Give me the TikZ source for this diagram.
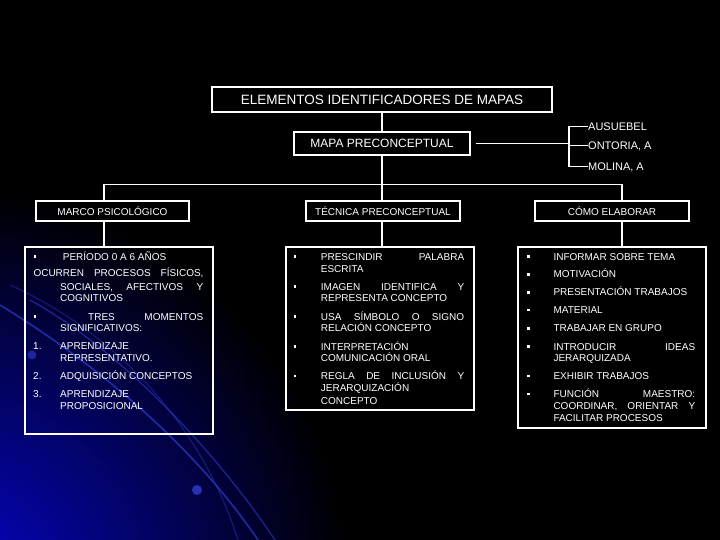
\documentclass[tikz,border=0pt]{standalone}
\usepackage{fontspec}
\setmainfont{Liberation Sans}
\definecolor{glow}{RGB}{5,5,205}
\definecolor{glowmid}{RGB}{0,0,120}
\definecolor{streak}{RGB}{50,60,210}
\tikzset{
  box/.style={draw=white, line width=1.1pt, fill=none, inner sep=0pt, text=white},
  txt/.style={text=white, inner sep=0pt, text height=7.2pt, text depth=0pt, anchor=west, font=\fontsize{10}{12}\selectfont},
  lbl/.style={text=white, inner sep=0pt, text height=7.9pt, text depth=0pt, anchor=west, font=\fontsize{11}{13}\selectfont},
  conn/.style={draw=white, line width=1.1pt}
}
\newcommand{\mytx}[4]{\node[txt] (#1) at (#2,#3) {#4};}
\newcommand{\myjx}[5]{\node[txt] (#1) at (#2,#3) {\makebox[#4pt][s]{#5}};}
\newcommand{\mybu}[2]{\fill[white] (#1-1.2,#2-1.3) rectangle (#1+1.2,#2+1.3);}
\begin{document}
\begin{tikzpicture}[x=1pt,y=-1pt]
\useasboundingbox (0,0) rectangle (720,540);
% background
\fill[black] (0,0) rectangle (720,540);
\begin{scope}
\clip (0,0) rectangle (720,540);
\shade[inner color=glow, middle color=glowmid, outer color=black] (-50,590) circle (400);
\draw[streak, line width=1.6pt, opacity=0.7] (0,305) .. controls (90,360) and (190,440) .. (258,540);
\draw[streak, line width=1.4pt, opacity=0.55] (30,300) .. controls (120,350) and (215,450) .. (275,540);
\draw[streak, line width=1.2pt, opacity=0.4] (10,285) .. controls (110,330) and (200,420) .. (238,540);
\fill[streak, opacity=0.8] (197,490) circle (5);
\fill[streak, opacity=0.6] (32,355) circle (4.5);
\end{scope}

% top nodes
\node[box, minimum width=340, minimum height=25, font=\fontsize{13.5}{15}\selectfont] (title) at (382,99.5) {ELEMENTOS IDENTIFICADORES DE MAPAS};
\node[box, minimum width=176, minimum height=23, font=\fontsize{12}{14}\selectfont] (mapa) at (382,143.5) {MAPA PRECONCEPTUAL};
\draw[conn] (title) -- (mapa);

% bracket
\node[lbl] (au) at (588,126.7) {AUSUEBEL};
\node[lbl] (on) at (588,145.7) {ONTORIA, A};
\node[lbl] (mo) at (588,166.5) {MOLINA, A};
\coordinate (br) at (569,143.5);
\draw[conn, shorten <=5pt] (mapa.east) -- (br);
\draw[conn] (au.west) -- ++(-19,0) |- (mo.west);
\draw[conn] (on.west) -- ++(-19,0);

% branch boxes
\node[box, minimum width=153, minimum height=20, font=\fontsize{10}{12}\selectfont] (marco) at (112.5,211) {MARCO PSICOLÓGICO};
\node[box, minimum width=154, minimum height=20, font=\fontsize{10}{12}\selectfont] (tec) at (383,211) {TÉCNICA PRECONCEPTUAL};
\node[box, minimum width=154, minimum height=20, font=\fontsize{10}{12}\selectfont] (como) at (612,211) {CÓMO ELABORAR};

\coordinate (jc) at (382,184.5);
\coordinate (jl) at (104,184.5);
\coordinate (jr) at (622,184.5);
\draw[conn] (mapa.south -| jc) -- (jc);
\draw[conn] (jl) -- (jr);
\draw[conn] (jl) -- (jl |- marco.north);
\draw[conn] (jc) -- (jc |- tec.north);
\draw[conn] (jr) -- (jr |- como.north);

% big boxes
\node[box, minimum width=188, minimum height=187] (lbox) at (119,340.5) {};
\node[box, minimum width=188, minimum height=163] (mbox) at (380,328.5) {};
\node[box, minimum width=188, minimum height=181] (rbox) at (612,337.5) {};
\draw[conn] (marco.south -| jl) -- (jl |- lbox.north);
\draw[conn] (tec.south -| jc) -- (jc |- mbox.north);
\draw[conn] (como.south -| jr) -- (jr |- rbox.north);

% left box text
\mybu{34.7}{256.7}
\mytx{l1}{62.7}{256.7}{PERÍODO 0 A 6 AÑOS}
\myjx{l2}{33.3}{273.3}{170}{OCURREN PROCESOS FÍSICOS,}
\myjx{l3}{60}{286.7}{143}{SOCIALES, AFECTIVOS Y}
\mytx{l4}{60}{298.3}{COGNITIVOS}
\mybu{34.7}{316.7}
\myjx{l5}{88}{316.7}{115}{TRES MOMENTOS}
\mytx{l6}{60}{328.3}{SIGNIFICATIVOS:}
\mytx{n1}{33}{346}{1.}
\mytx{l7}{60}{346}{APRENDIZAJE}
\mytx{l8}{60}{357.7}{REPRESENTATIVO.}
\mytx{n2}{33}{375.7}{2.}
\mytx{l9}{60}{375.7}{ADQUISICIÓN CONCEPTOS}
\mytx{n3}{33}{394}{3.}
\mytx{l10}{60}{394}{APRENDIZAJE}
\mytx{l11}{60}{406}{PROPOSICIONAL}

% middle box text
\mybu{295}{256.7}
\myjx{m1}{320.7}{256.7}{143.3}{PRESCINDIR PALABRA}
\mytx{m2}{320.7}{269}{ESCRITA}
\mybu{295}{286.7}
\myjx{m3}{320.7}{286.7}{143.3}{IMAGEN IDENTIFICA Y}
\mytx{m4}{320.7}{298.3}{REPRESENTA CONCEPTO}
\mybu{295}{316.7}
\myjx{m5}{320.7}{316.7}{143.3}{USA SÍMBOLO O SIGNO}
\mytx{m6}{320.7}{328.3}{RELACIÓN CONCEPTO}
\mybu{295}{346.7}
\mytx{m7}{320.7}{346.7}{INTERPRETACIÓN}
\mytx{m8}{320.7}{358.3}{COMUNICACIÓN ORAL}
\mybu{295}{376}
\myjx{m9}{320.7}{376}{143.3}{REGLA DE INCLUSIÓN Y}
\mytx{m10}{320.7}{388.3}{JERARQUIZACIÓN}
\mytx{m11}{320.7}{400.7}{CONCEPTO}

% right box text
\mybu{528.3}{256.7}
\mytx{r1}{553.3}{256.7}{INFORMAR SOBRE TEMA}
\mybu{528.3}{274.3}
\mytx{r2}{553.3}{274.3}{MOTIVACIÓN}
\mybu{528.3}{292.3}
\mytx{r3}{553.3}{292.3}{PRESENTACIÓN TRABAJOS}
\mybu{528.3}{310}
\mytx{r4}{553.3}{310}{MATERIAL}
\mybu{528.3}{328.3}
\mytx{r5}{553.3}{328.3}{TRABAJAR EN GRUPO}
\mybu{528.3}{346.7}
\myjx{r6}{553.3}{346.7}{141.7}{INTRODUCIR IDEAS}
\mytx{r7}{553.3}{358.3}{JERARQUIZADA}
\mybu{528.3}{376}
\mytx{r8}{553.3}{376}{EXHIBIR TRABAJOS}
\mybu{528.3}{394}
\myjx{r9}{553.3}{394}{141.7}{FUNCIÓN MAESTRO:}
\myjx{r10}{553.3}{406}{141.7}{COORDINAR, ORIENTAR Y}
\mytx{r11}{553.3}{418.3}{FACILITAR PROCESOS}
\end{tikzpicture}
\end{document}
